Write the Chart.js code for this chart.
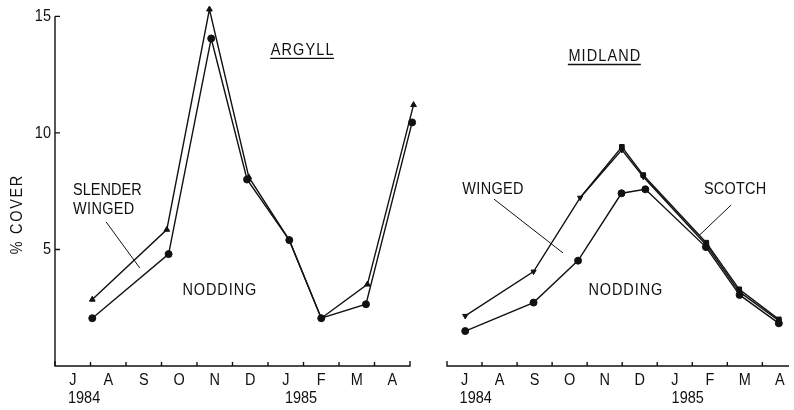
<!DOCTYPE html>
<html>
<head>
<meta charset="utf-8">
<script src="https://cdn.jsdelivr.net/npm/chart.js@4.4.1/dist/chart.umd.min.js"></script>
<style>
body { margin: 0; background: #fff; }
#wrap { position: relative; width: 794px; height: 410px; }
canvas { position: absolute; left: 0; top: 0; }
</style>
</head>
<body>
<div id="wrap">
<canvas id="argyll" width="794" height="410"></canvas>
<canvas id="midland" width="794" height="410"></canvas>
</div>
<script>
// x = months counted from 1 July 1984
const monthLabels = ["J", "A", "S", "O", "N", "D", "J", "F", "M", "A"];
const yearLabels = ["1984", "1985"];
const yTicks = [5, 10, 15];

// ARGYLL
const argyllNoddingX = [1.05, 3.2, 4.4, 5.41, 6.6, 7.5, 8.76, 10.06];
const argyllNoddingY = [2.05, 4.8, 14.05, 8.0, 5.4, 2.05, 2.65, 10.45];
const argyllSlenderX = [1.05, 3.15, 4.35, 5.46, 6.6, 7.5, 8.8, 10.1];
const argyllSlenderY = [2.85, 5.85, 15.3, 8.1, 5.4, 2.05, 3.5, 11.2];

// MIDLAND
const midlandNoddingX = [0.52, 2.47, 3.74, 4.98, 5.66, 7.39, 8.35, 9.47];
const midlandNoddingY = [1.5, 2.72, 4.52, 7.41, 7.58, 5.1, 3.05, 1.83];
const midlandWingedX = [0.52, 2.47, 3.8, 4.99, 5.6, 7.4, 8.34, 9.47];
const midlandWingedY = [2.15, 4.05, 7.22, 9.27, 8.12, 5.19, 3.19, 1.94];
const midlandScotchX = [3.8, 4.99, 5.6, 7.4, 8.34, 9.47];
const midlandScotchY = [7.22, 9.4, 8.19, 5.29, 3.29, 2.0];

const ink = "#111";
const FONT = "'Liberation Sans', Arial, sans-serif";

function pts(xs, ys) {
    return xs.map(function (x, i) { return { x: x, y: ys[i] }; });
}

function line(data, style, rot, radius) {
    return {
	data: data,
	borderColor: ink,
	borderWidth: 1.4,
	backgroundColor: ink,
	pointBackgroundColor: ink,
	pointBorderColor: ink,
	pointBorderWidth: 1,
	pointStyle: style,
	pointRotation: rot || 0,
	pointRadius: radius,
	tension: 0,
	clip: false
    };
}

// lettering is tall and narrow in the original, stretch it a bit
function letter(ctx, text, px, py, align, spacing) {
    ctx.save();
    ctx.translate(px, py);
    ctx.scale(1, 1.2);
    ctx.letterSpacing = (spacing || 0) + "px";
    ctx.textAlign = align || "center";
    ctx.textBaseline = "middle";
    var dx = 0;
    if (spacing && (align || "center") == "center") {
	dx = spacing / 2; // trailing spacing is counted in the width
    }
    ctx.fillText(text, dx, 0);
    ctx.restore();
}

const panelPlugin = {
    id: "panel",
    afterDraw: function (chart, args, opts) {
	const ctx = chart.ctx;
	const xs = chart.scales.x, ys = chart.scales.y;
	const X = function (v) { return xs.getPixelForValue(v); };
	const Y = function (v) { return ys.getPixelForValue(v); };
	const x0 = X(xs.min), x1 = X(xs.max), yb = Y(0);
	ctx.save();
	ctx.strokeStyle = ink;
	ctx.fillStyle = ink;
	ctx.lineWidth = 1.4;
	ctx.font = "14.5px " + FONT;

	// x axis with month ticks pointing up
	ctx.beginPath();
	ctx.moveTo(x0, yb - 5);
	ctx.lineTo(x0, yb);
	ctx.lineTo(x1, yb);
	if (opts.endCap) {
	    ctx.lineTo(x1, yb - 5);
	}
	for (let m = 1; m < monthLabels.length; m++) {
	    ctx.moveTo(X(m), yb);
	    ctx.lineTo(X(m), yb - 4);
	}
	ctx.stroke();
	monthLabels.forEach(function (t, i) {
	    letter(ctx, t, X(i + 0.5), yb + 14);
	});
	letter(ctx, yearLabels[0], X(opts.years[0]), yb + 32);
	letter(ctx, yearLabels[1], X(opts.years[1]), yb + 32);

	// y axis only on the left panel
	if (opts.yAxis) {
	    const top = Y(yTicks[yTicks.length - 1]);
	    ctx.beginPath();
	    ctx.moveTo(x0, yb);
	    ctx.lineTo(x0, top);
	    yTicks.forEach(function (v) {
		ctx.moveTo(x0, Y(v));
		ctx.lineTo(x0 + 5, Y(v));
	    });
	    ctx.stroke();
	    yTicks.forEach(function (v) {
		letter(ctx, String(v), x0 - 4, Y(v), "right");
	    });
	    ctx.save();
	    ctx.translate(17, 215);
	    ctx.rotate(-Math.PI / 2);
	    letter(ctx, "% COVER", 0, 0, "center", 1.7);
	    ctx.restore();
	}

	// underlined site name
	const tx = X(opts.title[1]), ty = Y(opts.title[2]);
	letter(ctx, opts.title[0], tx, ty, "center", 1.1);
	ctx.letterSpacing = "1.1px";
	const w = ctx.measureText(opts.title[0]).width;
	ctx.letterSpacing = "0px";
	ctx.beginPath();
	ctx.moveTo(tx - w / 2, ty + 8.5);
	ctx.lineTo(tx + w / 2, ty + 8.5);
	ctx.stroke();

	// species names and pointer lines
	opts.notes.forEach(function (n) {
	    letter(ctx, n[0], X(n[1]), Y(n[2]), n[3], n[4]);
	});
	ctx.lineWidth = 1;
	opts.pointers.forEach(function (p) {
	    ctx.beginPath();
	    ctx.moveTo(X(p[0]), Y(p[1]));
	    ctx.lineTo(X(p[2]), Y(p[3]));
	    ctx.stroke();
	});
	ctx.restore();
    }
};

function baseOptions(padding, xmax, panel) {
    return {
	responsive: false,
	animation: false,
	devicePixelRatio: 1,
	layout: { padding: padding },
	scales: {
	    x: { type: "linear", min: 0, max: xmax, display: false },
	    y: { type: "linear", min: 0, max: 15.1, display: false }
	},
	plugins: {
	    legend: { display: false },
	    tooltip: { enabled: false },
	    panel: panel
	}
    };
}

new Chart(document.getElementById("argyll"), {
    type: "line",
    data: {
	datasets: [
	    line(pts(argyllNoddingX, argyllNoddingY), "circle", 0, 3.5),
	    line(pts(argyllSlenderX, argyllSlenderY), "triangle", 0, 3.3)
	]
    },
    options: baseOptions({ left: 55, right: 384, top: 14, bottom: 44 }, 10, {
	yAxis: true,
	endCap: true,
	years: [0.82, 6.93],
	title: ["ARGYLL", 6.96, 13.56],
	notes: [
	    ["SLENDER", 0.51, 7.55, "left", 0],
	    ["WINGED", 0.51, 6.71, "left", 0.3],
	    ["NODDING", 4.63, 3.26, "center", 0.9]
	],
	pointers: [[1.44, 6.18, 2.39, 4.2]]
    }),
    plugins: [panelPlugin]
});

new Chart(document.getElementById("midland"), {
    type: "line",
    data: {
	datasets: [
	    line(pts(midlandNoddingX, midlandNoddingY), "circle", 0, 3.5),
	    line(pts(midlandWingedX, midlandWingedY), "triangle", 180, 3),
	    line(pts(midlandScotchX, midlandScotchY), "rect", 0, function (c) {
		return c.dataIndex === 0 ? 0 : 3.3;
	    })
	]
    },
    options: baseOptions({ left: 447, right: 1, top: 14, bottom: 44 }, 9.76, {
	yAxis: false,
	endCap: false,
	years: [0.82, 6.87],
	title: ["MIDLAND", 4.49, 13.3],
	notes: [
	    ["WINGED", 1.31, 7.59, "center", 0.3],
	    ["SCOTCH", 8.22, 7.59, "center", 0.2],
	    ["NODDING", 5.09, 3.26, "center", 0.9]
	],
	pointers: [[1.34, 7.16, 3.31, 4.85], [8.11, 6.91, 7.21, 5.62]]
    }),
    plugins: [panelPlugin]
});
</script>
</body>
</html>
